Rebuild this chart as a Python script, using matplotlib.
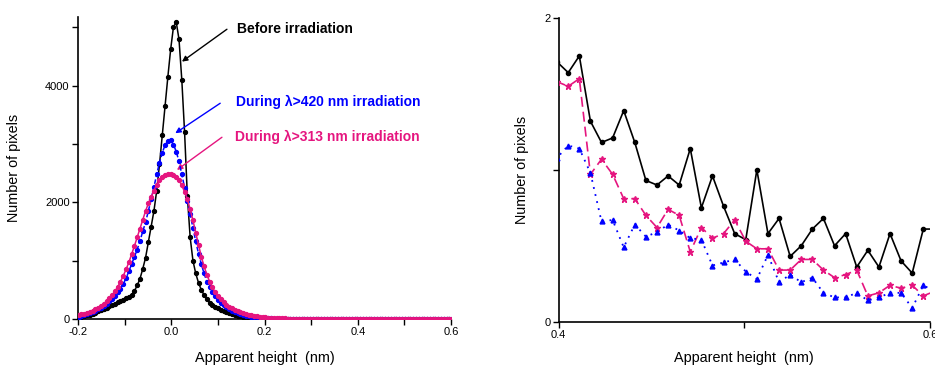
import numpy as np
import matplotlib
matplotlib.use("Agg")
import matplotlib.pyplot as plt
from matplotlib.ticker import MultipleLocator

plt.rcParams['font.family'] = ['Liberation Sans', 'DejaVu Sans']

# sampling grid of apparent height (nm)
x_start = -0.2045
x_step = 0.005977
n_pts = 136

before = [15, 25, 35, 48, 60, 72, 90, 110, 130, 150,
          172, 193, 215, 237, 260, 283, 305, 330, 355, 380,
          415, 480, 575, 690, 860, 1050, 1320, 1580, 1850, 2200,
          2650, 3150, 3650, 4150, 4620, 5000, 5090, 4790, 4100, 3200,
          2100, 1400, 1000, 780, 620, 500, 410, 335, 280, 240,
          205, 180, 155, 135, 115, 98, 82, 70, 58, 48,
          40, 33, 27, 22, 18, 15, 12, 10, 9, 8,
          7, 6, 6, 5, 5, 5, 4, 4, 4, 4,
          3.5, 3.4, 3.2, 3.0, 3.1, 2.8, 2.9, 2.6, 2.7, 2.5,
          2.4, 2.6, 2.3, 2.2, 2.4, 2.1, 2.0, 2.2, 1.9, 1.8, 1.9,
          1.71, 1.64, 1.75, 1.32, 1.18, 1.21, 1.39, 1.18, 0.93, 0.90,
          0.96, 0.90, 1.14, 0.75, 0.96, 0.76, 0.58, 0.54, 1.00, 0.58,
          0.68, 0.43, 0.50, 0.61, 0.68, 0.50, 0.58, 0.36, 0.47, 0.36,
          0.58, 0.40, 0.32, 0.61, 0.61]

during420 = [33, 42, 52, 65, 80, 98, 118, 140, 165, 195,
             230, 265, 305, 350, 400, 455, 520, 600, 700, 815,
             940, 1060, 1190, 1340, 1500, 1660, 1850, 2050, 2260, 2480,
             2680, 2850, 2980, 3050, 3060, 2990, 2870, 2700, 2480, 2250,
             2030, 1800, 1560, 1330, 1120, 940, 780, 640, 540, 460,
             390, 330, 280, 235, 200, 170, 143, 120, 100, 83,
             69, 57, 47, 39, 32, 26, 21, 17, 14, 11,
             9, 8, 7, 6, 5, 4.5, 4, 3.6, 3.3, 3.0,
             2.8, 2.6, 2.4, 2.3, 2.1, 2.0, 1.9, 1.8, 1.7, 1.6,
             1.6, 1.5, 1.5, 1.4, 1.4, 1.3, 1.3, 1.2, 1.2, 1.2, 1.1,
             1.08, 1.16, 1.14, 0.98, 0.66, 0.67, 0.49, 0.64, 0.56, 0.59,
             0.64, 0.60, 0.55, 0.54, 0.37, 0.39, 0.41, 0.33, 0.28, 0.44,
             0.26, 0.31, 0.26, 0.29, 0.19, 0.16, 0.16, 0.19, 0.14, 0.16,
             0.19, 0.19, 0.09, 0.24, 0.20]

during313 = [60, 69, 80, 93, 108, 125, 145, 168, 195, 225,
             262, 305, 355, 410, 475, 550, 640, 740, 850, 970,
             1110, 1250, 1400, 1550, 1700, 1850, 1980, 2090, 2200, 2300,
             2380, 2440, 2475, 2485, 2485, 2470, 2440, 2380, 2290, 2180,
             2050, 1880, 1690, 1480, 1270, 1070, 900, 760, 640, 540,
             460, 390, 335, 285, 245, 210, 180, 155, 133, 114,
             98, 84, 72, 62, 53, 45, 38, 32, 27, 23,
             20, 17, 14, 12, 10, 9, 8, 7, 6.3, 5.7,
             5.2, 4.8, 4.4, 4.0, 3.7, 3.4, 3.2, 3.0, 2.8, 2.6,
             2.5, 2.4, 2.3, 2.2, 2.1, 2.0, 1.9, 1.8, 1.8, 1.7, 1.6,
             1.58, 1.55, 1.60, 0.97, 1.07, 0.97, 0.81, 0.81, 0.70, 0.62,
             0.74, 0.70, 0.46, 0.62, 0.55, 0.58, 0.67, 0.53, 0.48, 0.48,
             0.34, 0.34, 0.41, 0.41, 0.34, 0.29, 0.31, 0.34, 0.17, 0.19,
             0.24, 0.22, 0.24, 0.17, 0.20]

labels = ["Before irradiation", "During \u03bb>420 nm irradiation", "During \u03bb>313 nm irradiation"]
BLACK = "#000000"
BLUE = "#0000FF"
PINK = "#E5157F"

heights = x_start + x_step * np.arange(n_pts)

fig = plt.figure(figsize=(9.35, 3.67), dpi=100)

# ---------------- left panel ----------------
ax1 = fig.add_axes([0.0834, 0.1308, 0.399, 0.8237])
ax1.plot(heights, before, color=BLACK, lw=1.1, marker='o', ms=2.8, zorder=3)
ax1.plot(heights, during420, color=BLUE, lw=1.1, ls=(0, (3, 1.5)), marker='o', ms=2.8, zorder=4)
ax1.plot(heights, during313, color=PINK, lw=1.1, marker='o', ms=2.8, zorder=5)
ax1.set_xlim(-0.2, 0.6)
ax1.set_ylim(0, 5180)
ax1.xaxis.set_major_locator(MultipleLocator(0.2))
ax1.xaxis.set_minor_locator(MultipleLocator(0.1))
ax1.yaxis.set_major_locator(MultipleLocator(2000))
ax1.yaxis.set_minor_locator(MultipleLocator(1000))
ax1.xaxis.set_major_formatter(matplotlib.ticker.FormatStrFormatter('%.1f'))
ax1.set_xlabel("Apparent height  (nm)", fontsize=10.4, labelpad=10)
ax1.set_ylabel("Number of pixels", fontsize=10.4, labelpad=17)

# annotations: (arrow head, arrow tail, text anchor)
ann = [(labels[0], BLACK, (0.0229, 4410), (0.1194, 4965), (0.1408, 4965)),
       (labels[1], BLUE, (0.0086, 3183), (0.1050, 3697), (0.1393, 3725)),
       (labels[2], PINK, (0.0122, 2554), (0.1087, 3114), (0.1357, 3125))]
for txt, col, head, tail, pos in ann:
    ax1.annotate('', xy=head, xytext=tail,
                 arrowprops=dict(arrowstyle='-|>', color=col, lw=1.0, mutation_scale=8,
                                 shrinkA=0, shrinkB=0))
    ax1.text(pos[0], pos[1], txt, fontsize=10, fontweight='bold', color=col,
             va='center', ha='left')

# ---------------- right panel ----------------
ax2 = fig.add_axes([0.5975, 0.1234, 0.3971, 0.8277])
ax2.plot(heights, before, color=BLACK, lw=1.2, marker='o', ms=3, zorder=3)
ax2.plot(heights, during313, color=PINK, lw=1.2, ls=(0, (6, 3)), marker='*', ms=4.5, zorder=4)
ax2.plot(heights, during420, color=BLUE, lw=1.3, ls=(0, (1, 3)), marker='^', ms=3.5, zorder=5)
ax2.set_xlim(0.4, 0.6)
ax2.set_ylim(0, 2)
ax2.set_xticks([0.4, 0.6])
ax2.set_xticks([0.5], minor=True)
ax2.set_yticks([0, 2])
ax2.set_yticks([1], minor=True)
ax2.set_xticklabels(["0.4", "0.6"])
ax2.set_yticklabels(["0", "2"])
ax2.set_xlabel("Apparent height  (nm)", fontsize=10.4, labelpad=8)
ax2.set_ylabel("Number of pixels", fontsize=10.4, labelpad=11)

for ax in (ax1, ax2):
    for s in ('top', 'right'):
        ax.spines[s].set_visible(False)
    for s in ('left', 'bottom'):
        ax.spines[s].set_linewidth(1.2)
    ax.tick_params(which='major', direction='out', length=4, width=1.0, labelsize=8, pad=2)
    ax.tick_params(which='minor', direction='out', length=4, width=1.0)

fig.savefig("out.png", dpi=100)
